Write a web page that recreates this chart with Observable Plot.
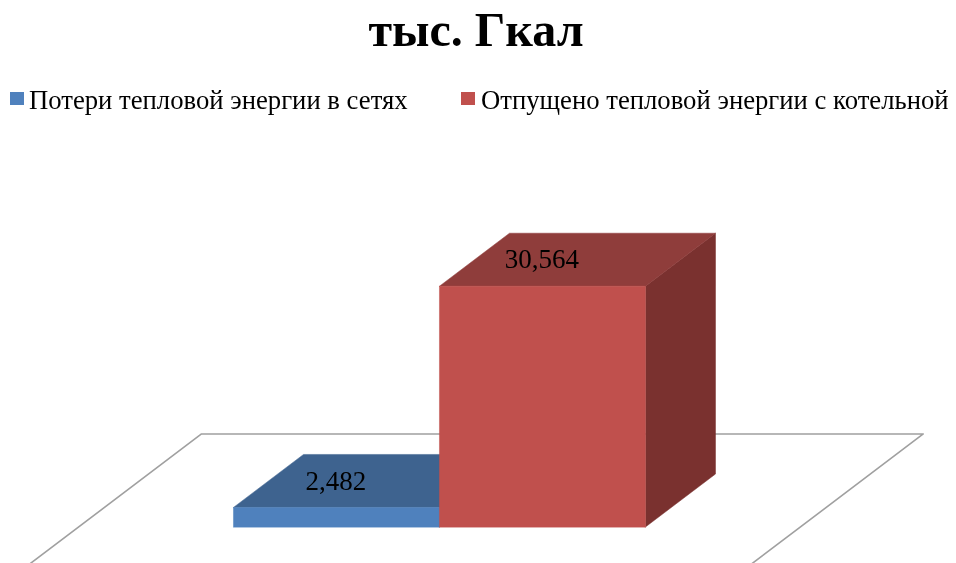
<!DOCTYPE html>
<html>
<head>
<meta charset="utf-8">
<script src="https://cdn.jsdelivr.net/npm/d3@7"></script>
<script src="https://cdn.jsdelivr.net/npm/@observablehq/plot@0.6"></script>
<style>
  html, body { margin: 0; padding: 0; background: #fff; overflow: hidden; }
  body { width: 956px; height: 563px; font-family: "Liberation Serif", serif; color: #000; }
  #page { filter: blur(0.45px); width: 956px; height: 563px; overflow: hidden; }
  #head { position: relative; width: 956px; height: 120px; }
  #title { position: absolute; left: 0; width: 952px; top: 2px; text-align: center; font-size: 48px; font-weight: bold; line-height: 56px; }
  .lg { position: absolute; top: 85px; font-size: 26.7px; line-height: 30px; white-space: nowrap; }
  .sw { position: absolute; top: 92px; width: 14px; height: 13px; }
  #chart svg { display: block; }
</style>
</head>
<body>
<div id="page">
<div id="head">
  <div id="title"></div>
  <div id="legend"></div>
</div>
<div id="chart"></div>
</div>
<script>
const titleText = "тыс. Гкал";
const categories = ["Потери тепловой энергии в сетях", "Отпущено тепловой энергии с котельной"];
const values = [2482, 30564];
const frontColors = ["#4F81BD", "#C0504D"];
const topColors = ["#3E638F", "#8F3D3B"];
const sideColors = ["#3A5C85", "#7A312F"];
const floorColor = "#A0A0A0";

// Projection of the 3D box: a unit of depth shifts right and up, in scale units.
const depthX = 0.34;
const depthY = 6727;
const floorX = [-0.752, 2.752];
const floorDepth = [-0.755, 1.755];
const at = (x, d, v) => ({x: x + d * depthX, y: v + d * depthY});
const face = (pts) => pts.map(([x, d, v]) => at(x, d, v));

document.getElementById("title").textContent = titleText;
const legend = document.getElementById("legend");
[[10, 29], [461, 481]].forEach(([sx, tx], i) => {
  const s = document.createElement("div");
  s.className = "sw"; s.style.left = sx + "px"; s.style.background = frontColors[i];
  const t = document.createElement("div");
  t.className = "lg"; t.style.left = tx + "px"; t.textContent = categories[i];
  legend.append(s, t);
});

const poly = (pts, fill) => Plot.line(pts, {x: "x", y: "y", fill, stroke: fill, strokeWidth: 0.5, curve: "linear-closed"});

const marks = [];
// floor
marks.push(Plot.line(face([
  [floorX[0], floorDepth[0], 0],
  [floorX[0], floorDepth[1], 0],
  [floorX[1], floorDepth[1], 0],
  [floorX[1], floorDepth[0], 0]
]), {x: "x", y: "y", stroke: floorColor, strokeWidth: 1.6, clip: "frame"}));

// bars, back to front
values.forEach((v, i) => {
  const x0 = i, x1 = i + 1;
  marks.push(poly(face([[x1, 0, 0], [x1, 1, 0], [x1, 1, v], [x1, 0, v]]), sideColors[i]));
  marks.push(poly(face([[x0, 0, v], [x0, 1, v], [x1, 1, v], [x1, 0, v]]), topColors[i]));
  marks.push(poly(face([[x0, 0, 0], [x0, 0, v], [x1, 0, v], [x1, 0, 0]]), frontColors[i]));
});

// value labels
marks.push(Plot.text(values, {
  x: (d, i) => i + 0.5,
  y: (d) => d,
  text: (d) => d3.format(",")(d),
  dy: -26.5,
  dx: -0.5,
  fill: "#000",
  fontSize: 27,
  fontFamily: "Liberation Serif"
}));

const chart = Plot.plot({
  width: 956,
  height: 443,
  margin: 0,
  x: {type: "linear", domain: [-1.131, 3.51], range: [0, 956], axis: null},
  y: {type: "linear", domain: [-4633, 51596], range: [443, 0], axis: null},
  marks
});
document.getElementById("chart").append(chart);
</script>
</body>
</html>
